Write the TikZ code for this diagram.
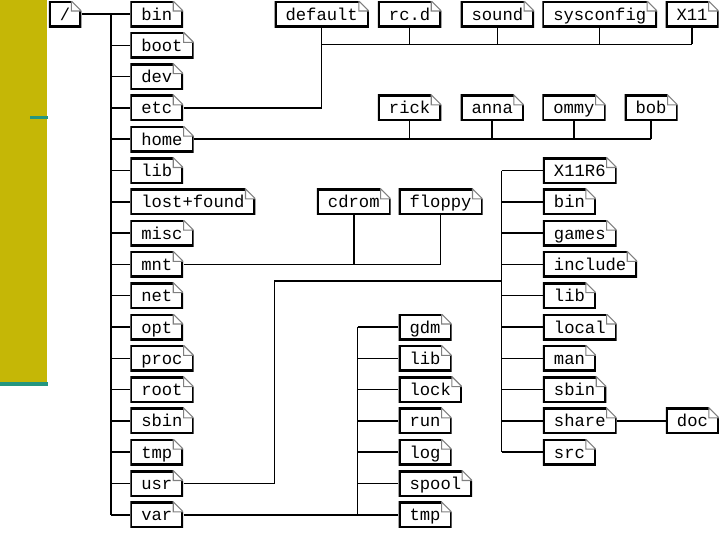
\documentclass[tikz,border=0pt]{standalone}
\usepackage{fontspec}
\setmonofont{Liberation Mono}
\definecolor{barolive}{RGB}{197,183,6}
\definecolor{barteal}{RGB}{36,150,128}

\begin{document}
\begin{tikzpicture}[x=0.75pt,y=-0.75pt,
  dir/.style={anchor=west, font=\ttfamily\fontsize{12.9pt}{14pt}\selectfont, inner xsep=8.25pt, inner ysep=0pt, minimum height=19.5pt, text height=10pt, text depth=1pt,
    path picture={
      \draw[line width=3pt] ([xshift=-7.5pt]path picture bounding box.north east) -- (path picture bounding box.north west) -- (path picture bounding box.south west) -- (path picture bounding box.south east) -- ([yshift=-7.5pt]path picture bounding box.north east);
      \draw[gray, line width=0.8pt] ([xshift=-7.5pt]path picture bounding box.north east) |- ([yshift=-7.5pt]path picture bounding box.north east) -- cycle;}},
  link/.style={line width=1.1pt}]
\useasboundingbox (0,0) rectangle (720,540);
% side bar
\fill[barolive] (0,0) rectangle (47,382);
\fill[barteal] (0,382) rectangle (47.5,385.5);
\fill[barteal] (30,116) rectangle (47.5,118.7);

% root and its column
\node[dir] (slash) at (48.7,14) {/};
\foreach \nm/\lbl [count=\rowi from 0] in {bin/bin,boot/boot,dev/dev,etc/etc,home/home,lib/lib,lost/lost+found,misc/misc,mnt/mnt,net/net,opt/opt,proc/proc,root/root,sbin/sbin,tmp/tmp,usr/usr,var/var}
  \node[dir] (\nm) at (130,{14+31.3*\rowi}) {\lbl};
\coordinate (rootbus) at (111,14);
\draw[link] (slash) -- (bin);
\draw[link] (rootbus) -- (rootbus |- var.west);
\foreach \nm in {boot,dev,etc,home,lib,lost,misc,mnt,net,opt,proc,root,sbin,tmp,usr,var}
  \draw[link] (rootbus |- \nm.west) -- (\nm.west);

% /etc
\node[dir] (default) at (274.3,14) {default};
\node[dir] (rcd) at (377.7,14) {rc.d};
\node[dir] (sound) at (460.3,14) {sound};
\node[dir] (sysconfig) at (542,14) {sysconfig};
\node[dir] (xeleven) at (665.3,14) {X11};
\coordinate (etcbus) at (0,44.3);
\draw[link] (etc.east) -| (default.south);
\draw[link] (default.south |- etcbus) -- (xeleven.south |- etcbus);
\foreach \nm in {rcd,sound,sysconfig,xeleven}
  \draw[link] (\nm.south) -- (\nm.south |- etcbus);

% /home
\foreach \nm/\xpos in {rick/377.7,anna/460.3,ommy/542,bob/624.3}
  \node[dir] (\nm) at (\xpos,{14+31.3*3}) {\nm};
\draw[link] (home.east) -- (home.east -| bob.south);
\foreach \nm in {rick,anna,ommy,bob}
  \draw[link] (\nm.south) -- (\nm.south |- home.east);

% /mnt
\node[dir] (cdrom) at (316.7,{14+31.3*6}) {cdrom};
\node[dir] (floppy) at (398.3,{14+31.3*6}) {floppy};
\draw[link] (mnt.east) -- (mnt.east -| floppy.south);
\foreach \nm in {cdrom,floppy}
  \draw[link] (\nm.south) -- (\nm.south |- mnt.east);

% /usr
\foreach \nm/\lbl [count=\rowi from 5] in {x11r6/X11R6,ubin/bin,games/games,include/include,ulib/lib,local/local,man/man,usbin/sbin,share/share,usrc/src}
  \node[dir] (\nm) at (542.7,{14+31.3*\rowi}) {\lbl};
\coordinate (usrbend) at (274.3,281);
\coordinate (usrbus) at (501.7,281);
\draw[link] (usr.east) -| (usrbend) -- (usrbus);
\draw[link] (usrbus |- x11r6.west) -- (usrbus |- usrc.west);
\foreach \nm in {x11r6,ubin,games,include,ulib,local,man,usbin,share,usrc}
  \draw[link] (usrbus |- \nm.west) -- (\nm.west);
\node[dir] (doc) at (665.7,{14+31.3*13}) {doc};
\draw[link] (share.east) -- (doc.west);

% /var
\foreach \nm/\lbl [count=\rowi from 10] in {gdm/gdm,vlib/lib,lock/lock,run/run,log/log,spool/spool,vtmp/tmp}
  \node[dir] (\nm) at (398.3,{14+31.3*\rowi}) {\lbl};
\coordinate (varbus) at (357.7,0);
\draw[link] (var.east) -- (vtmp.west);
\draw[link] (varbus |- gdm.west) -- (varbus |- vtmp.west);
\foreach \nm in {gdm,vlib,lock,run,log,spool}
  \draw[link] (varbus |- \nm.west) -- (\nm.west);
\end{tikzpicture}
\end{document}
